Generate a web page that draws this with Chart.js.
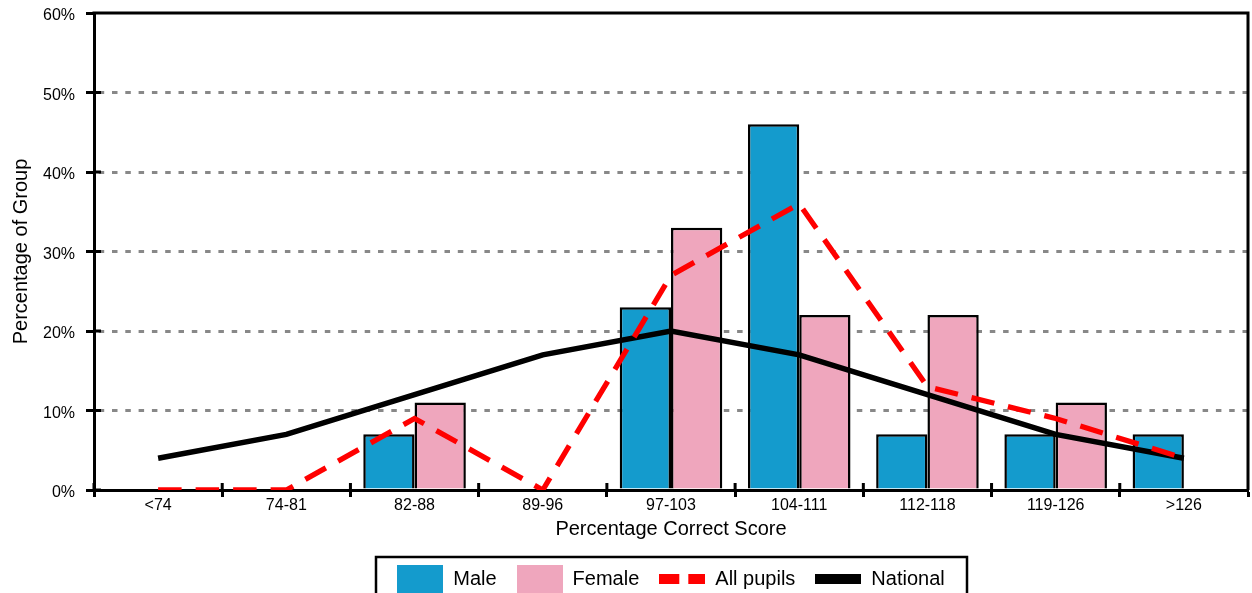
<!DOCTYPE html>
<html>
<head>
<meta charset="utf-8">
<title>Percentage Correct Score</title>
<script src="https://cdn.jsdelivr.net/npm/chart.js@4.4.1/dist/chart.umd.min.js"></script>
<style>
    html, body { margin: 0; padding: 0; background: #fff; overflow: hidden; }
    #wrap { width: 1252px; height: 600px; }
</style>
</head>
<body>
<div id="wrap"><canvas id="scoreChart" width="1252" height="600"></canvas></div>
<script>
// ===== DATA =====
const categories = ['<74', '74-81', '82-88', '89-96', '97-103', '104-111', '112-118', '119-126', '>126'];
const maleValues = [0, 0, 7, 0, 23, 46, 7, 7, 7];
const femaleValues = [0, 0, 11, 0, 33, 22, 22, 11, 0];
const allPupilsValues = [0, 0, 9, 0, 27, 36, 13, 9, 4];
const nationalValues = [4, 7, 12, 17, 20, 17, 12, 7, 4];
const yTicks = [0, 10, 20, 30, 40, 50, 60];

const FONT = '"Liberation Sans", Arial, Helvetica, sans-serif';
const MALE = '#149bcd';
const FEMALE = '#efa6bd';
const RED = '#ff0000';

Chart.defaults.font.family = FONT;
Chart.defaults.color = '#000';

// Legend swatches (little canvases used as point styles)
function makeSwatch(w, h, draw) {
    const c = document.createElement('canvas');
    c.width = w;
    c.height = h;
    draw(c.getContext('2d'), w, h);
    return c;
}
const swatches = [
    makeSwatch(46, 28, (g, w, h) => { g.fillStyle = MALE; g.fillRect(0, 0, w, h); }),
    makeSwatch(46, 28, (g, w, h) => { g.fillStyle = FEMALE; g.fillRect(0, 0, w, h); }),
    makeSwatch(46, 10, (g, w, h) => { g.fillStyle = RED; g.fillRect(0, 0, 20, h); g.fillRect(29, 0, 17, h); }),
    makeSwatch(46, 10, (g, w, h) => { g.fillStyle = '#000'; g.fillRect(0, 0, w, h); })
];

// Frame, inner tick halves and legend border
const framePlugin = {
    id: 'frame',
    afterDraw(chart) {
        const { ctx, chartArea: a, scales: { x, y } } = chart;
        ctx.save();
        ctx.strokeStyle = '#000';
        ctx.lineWidth = 3;
        ctx.beginPath();
        ctx.moveTo(a.left - 1.5, a.top);
        ctx.lineTo(a.right, a.top);
        ctx.lineTo(a.right, a.bottom);
        yTicks.forEach(v => {
            const py = y.getPixelForValue(v);
            ctx.moveTo(a.left, py);
            ctx.lineTo(a.left + 7, py);
        });
        for (let i = 0; i <= categories.length; i++) {
            const px = x.getPixelForValue(i - 0.5);
            ctx.moveTo(px, a.bottom);
            ctx.lineTo(px, a.bottom - 7);
        }
        ctx.stroke();

        const boxes = chart.legend.legendHitBoxes;
        if (boxes && boxes.length) {
            const first = boxes[0];
            const last = boxes[boxes.length - 1];
            const left = Math.round(first.left - 21);
            const right = Math.round(last.left + last.width + 22);
            const top = Math.round(first.top - 12);
            ctx.lineWidth = 2.5;
            ctx.strokeRect(left, top, right - left, 120);
        }
        ctx.restore();
    }
};

new Chart(document.getElementById('scoreChart'), {
    type: 'bar',
    data: {
        labels: categories,
        datasets: [
            {
                label: 'Male',
                data: maleValues,
                backgroundColor: MALE,
                borderColor: '#000',
                borderWidth: 2.5,
                categoryPercentage: 0.8,
                barPercentage: 1.0,
                order: 3
            },
            {
                label: 'Female',
                data: femaleValues,
                backgroundColor: FEMALE,
                borderColor: '#000',
                borderWidth: 2.5,
                categoryPercentage: 0.8,
                barPercentage: 1.0,
                order: 3
            },
            {
                type: 'line',
                label: 'All pupils',
                data: allPupilsValues,
                borderColor: RED,
                borderWidth: 5.3,
                borderDash: [23.5, 14],
                pointRadius: 0,
                tension: 0,
                fill: false,
                order: 1
            },
            {
                type: 'line',
                label: 'National',
                data: nationalValues,
                borderColor: '#000',
                borderWidth: 5.5,
                pointRadius: 0,
                tension: 0,
                fill: false,
                order: 2
            }
        ]
    },
    options: {
        responsive: false,
        animation: false,
        layout: { padding: { top: 13, right: 4, bottom: 1, left: 0 } },
        plugins: {
            tooltip: { enabled: false },
            legend: {
                position: 'bottom',
                fullSize: false,
                align: 'center',
                labels: {
                    usePointStyle: true,
                    pointStyleWidth: 46,
                    boxHeight: 20,
                    padding: 20,
                    color: '#000',
                    font: { family: FONT, size: 20 },
                    generateLabels: chart => chart.data.datasets.map((ds, i) => ({
                        text: ds.label,
                        pointStyle: swatches[i],
                        fillStyle: 'transparent',
                        strokeStyle: 'transparent',
                        lineWidth: 0,
                        hidden: false,
                        datasetIndex: i
                    }))
                }
            }
        },
        scales: {
            x: {
                offset: true,
                grid: {
                    offset: true,
                    drawOnChartArea: false,
                    tickLength: 7,
                    tickColor: '#000',
                    tickWidth: 3
                },
                border: { color: '#000', width: 3 },
                ticks: {
                    color: '#000',
                    font: { family: FONT, size: 16 },
                    padding: -1,
                    autoSkip: false,
                    maxRotation: 0
                },
                title: {
                    display: true,
                    text: 'Percentage Correct Score',
                    color: '#000',
                    font: { family: FONT, size: 20 },
                    padding: { top: 0, bottom: 8 }
                },
                afterFit: s => {
                    s.height = 59;
                    s.paddingLeft = 0;
                    s.paddingRight = 0;
                }
            },
            y: {
                min: 0,
                max: 60,
                ticks: {
                    stepSize: 10,
                    callback: v => v + '%',
                    color: '#000',
                    font: { family: FONT, size: 16 },
                    padding: 11,
                    labelOffset: 3
                },
                grid: {
                    color: c => (c.tick && (c.tick.value === 0 || c.tick.value === 60)) ? 'rgba(0,0,0,0)' : '#888',
                    lineWidth: 3,
                    tickLength: 8,
                    tickColor: '#000',
                    tickWidth: 3
                },
                border: { color: '#000', width: 3, dash: [5.5, 7.8], dashOffset: 10.6 },
                title: {
                    display: true,
                    text: 'Percentage of Group',
                    color: '#000',
                    font: { family: FONT, size: 20 },
                    padding: { top: 9, bottom: 0 }
                },
                afterFit: s => {
                    s.width = 94;
                    s.paddingTop = 0;
                    s.paddingBottom = 0;
                }
            }
        }
    },
    plugins: [framePlugin]
});
</script>
</body>
</html>
